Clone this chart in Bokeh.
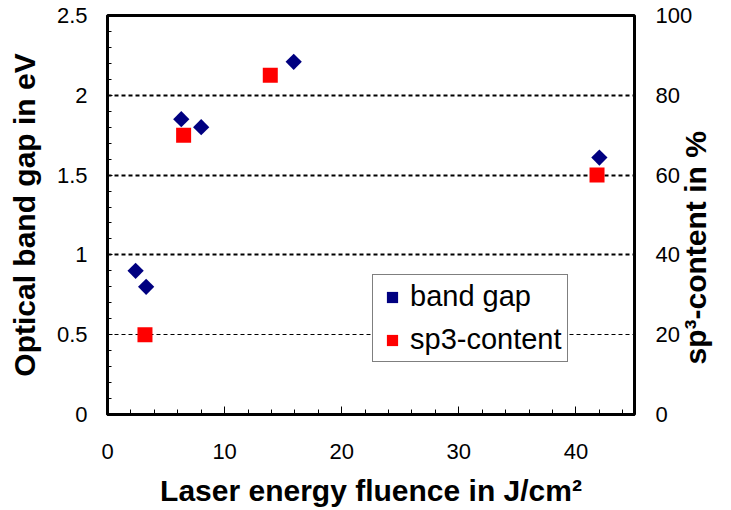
import math
from bokeh.plotting import figure
from bokeh.models import (Range1d, LinearAxis, SingleIntervalTicker, FixedTicker,
                          Legend, LegendItem, Grid, CustomJSTickFormatter)
from bokeh.embed import file_html
from bokeh.resources import INLINE

# ---- data ----
fluence_gap = [2.4, 3.3, 6.3, 8.0, 15.9, 42.0]
band_gap = [0.90, 0.80, 1.85, 1.80, 2.21, 1.61]
fluence_sp3 = [3.2, 6.5, 13.9, 41.8]
sp3_content = [20, 70, 85, 60]

x_ticks = [0, 10, 20, 30, 40]
gap_ticks = [0, 0.5, 1, 1.5, 2, 2.5]
sp3_ticks = [0, 20, 40, 60, 80, 100]

FONT = "Liberation Sans"
NB = "\u00a0"

p = figure(width=731, height=510, x_range=Range1d(0, 45), y_range=Range1d(0, 2.5),
           output_backend="svg", toolbar_location=None,
           min_border_left=107, min_border_right=95, min_border_top=15, min_border_bottom=96,
           background_fill_color="white", border_fill_color="white",
           outline_line_color="black", outline_line_width=3)

xa = p.below[0]
ya = p.left[0]

xa.ticker = SingleIntervalTicker(interval=10, num_minor_ticks=5)
ya.ticker = SingleIntervalTicker(interval=0.5, num_minor_ticks=5)
ya.formatter = CustomJSTickFormatter(code="return tick.toString();")

for ax in (xa, ya):
    ax.axis_line_width = 3
    ax.axis_line_color = "black"
    ax.major_tick_out = 0
    ax.minor_tick_out = 0
    ax.major_tick_line_color = "black"
    ax.minor_tick_line_color = "black"
    ax.major_label_text_font = FONT
    ax.major_label_text_font_size = "22px"
    ax.major_label_text_color = "black"
    ax.axis_label_text_font = FONT
    ax.axis_label_text_font_size = "30px"
    ax.axis_label_text_font_style = "bold"
    ax.axis_label_text_color = "black"

xa.major_tick_in = 8
xa.minor_tick_in = 5
xa.major_label_standoff = 29
xa.axis_label_standoff = 12
xa.axis_label = "Laser energy fluence in J/cm\u00b2"

ya.major_tick_in = 5
ya.minor_tick_in = 4
ya.major_label_standoff = 20
ya.axis_label_standoff = 13
ya.axis_label = "Optical band gap in eV"

# grids
p.xgrid.visible = False
p.ygrid.visible = False
p.add_layout(Grid(dimension=1, ticker=FixedTicker(ticks=[1, 1.5, 2]),
                  grid_line_color="black", grid_line_dash="4 3", grid_line_width=2))
p.add_layout(Grid(dimension=1, ticker=FixedTicker(ticks=[0.5]),
                  grid_line_color="black", grid_line_dash="4 3", grid_line_width=1))

# right axis
p.extra_y_ranges = {"sp3": Range1d(0, 100)}
ra = LinearAxis(y_range_name="sp3", ticker=FixedTicker(ticks=sp3_ticks),
                major_tick_in=0, major_tick_out=0, minor_tick_in=0, minor_tick_out=0,
                axis_line_color=None, major_label_standoff=21,
                major_label_text_font=FONT, major_label_text_font_size="22px",
                major_label_text_color="black",
                axis_label=NB * 6 + "sp\u00b3-content in %", axis_label_standoff=0,
                axis_label_text_font=FONT, axis_label_text_font_size="30px",
                axis_label_text_font_style="bold", axis_label_text_color="black")
ra.axis_label_orientation = math.pi / 2
ra.axis_label_align = "start"
p.add_layout(ra, "right")

r1 = p.scatter(fluence_gap, band_gap, marker="square", angle=math.pi / 4, size=11.5,
               fill_color="#000080", line_color=None)
r2 = p.scatter(fluence_sp3, sp3_content, marker="square", size=15,
               fill_color="#FF0000", line_color=None, y_range_name="sp3")

legend = Legend(items=[LegendItem(label="band gap", renderers=[r1]),
                       LegendItem(label="sp3-content", renderers=[r2])],
                location=(265, 52), border_line_color="black", border_line_width=1,
                background_fill_color="white", background_fill_alpha=1.0,
                label_text_font=FONT, label_text_font_size="29px", label_text_color="black",
                glyph_width=28, glyph_height=32, label_height=32, padding=5, spacing=10,
                label_standoff=4, margin=0)
p.add_layout(legend)

open("out.html", "w").write(file_html(p, INLINE))
